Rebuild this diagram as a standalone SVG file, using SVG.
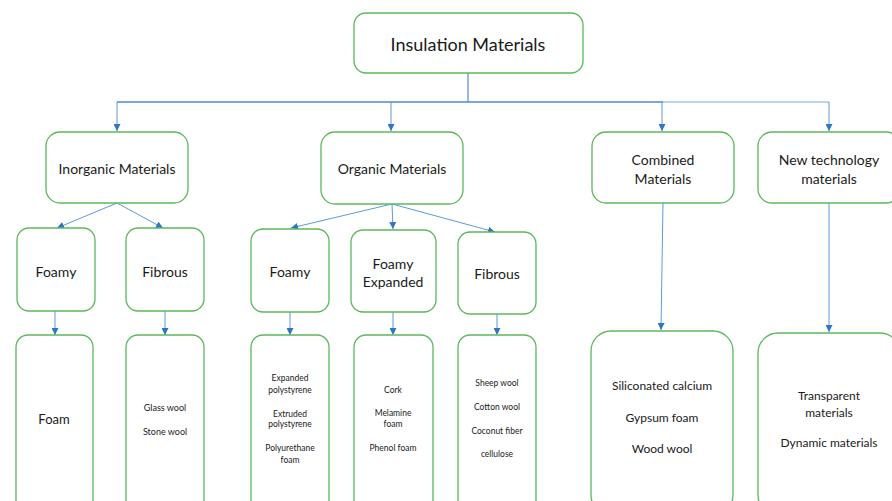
<svg xmlns="http://www.w3.org/2000/svg" width="892" height="501" viewBox="0 0 892 501">
<defs>
<marker id="ah" viewBox="0 0 10 10" refX="10" refY="5" markerWidth="7" markerHeight="7" markerUnits="userSpaceOnUse" orient="auto">
<path d="M0,0 L10,5 L0,10 z" fill="#2e75c6"/>
</marker>
<style>
.box{fill:#fff;stroke:#5cb85c;stroke-width:1.3}
.c{fill:none;stroke:#5b9bd5;stroke-width:1}
.t{font-family:Lato,"Open Sans",sans-serif;fill:#1a1a1a;text-anchor:middle;dominant-baseline:central}
.t18{font-size:18px}
.t14{font-size:14px}
.t13{font-size:13px}
.t12{font-size:12px}
.t9{font-size:9px}
.t8{font-size:8.5px}
</style>
</defs>
<rect width="892" height="501" fill="#fff"/>
<g id="connectors">
<path class="c" d="M468,73 V102" style="stroke:#2e75c6"/>
<path class="c" d="M117,102 H663" style="stroke:#4a8bd0;stroke-width:1.4"/>
<path class="c" d="M663,102 H829" style="stroke:#bcd4ee;stroke-width:2"/>
<path class="c" d="M117,102 V131" marker-end="url(#ah)"/>
<path class="c" d="M391,102 V131" marker-end="url(#ah)"/>
<path class="c" d="M662,102 V131" marker-end="url(#ah)"/>
<path class="c" d="M829,102 V131" marker-end="url(#ah)"/>
<path class="c" d="M117,203 L57,228" marker-end="url(#ah)"/>
<path class="c" d="M117,203 L163,228" marker-end="url(#ah)"/>
<path class="c" d="M392,204 L291,228" marker-end="url(#ah)"/>
<path class="c" d="M392,204 L393,229" marker-end="url(#ah)"/>
<path class="c" d="M392,204 L495,232" marker-end="url(#ah)"/>
<path class="c" d="M55,311 V335" marker-end="url(#ah)"/>
<path class="c" d="M165,311 V335" marker-end="url(#ah)"/>
<path class="c" d="M290,312 V335" marker-end="url(#ah)"/>
<path class="c" d="M393,312 V335" marker-end="url(#ah)"/>
<path class="c" d="M497,314 V335" marker-end="url(#ah)"/>
<path class="c" d="M663,203 L661,330" marker-end="url(#ah)"/>
<path class="c" d="M829,203 V332" marker-end="url(#ah)"/>
</g>
<g id="insulation">
<rect class="box" x="354" y="13" width="229" height="60" rx="12"/>
<text class="t t18" x="468" y="44">Insulation Materials</text>
</g>
<g id="inorganic">
<rect class="box" x="46" y="132" width="142" height="71" rx="14"/>
<text class="t t14" x="117" y="168">Inorganic Materials</text>
</g>
<g id="organic">
<rect class="box" x="321" y="132" width="142" height="72" rx="14"/>
<text class="t t14" x="392" y="168">Organic Materials</text>
</g>
<g id="combined">
<rect class="box" x="592" y="132" width="142" height="71" rx="14"/>
<text class="t t14" x="663" y="159">Combined</text>
<text class="t t14" x="663" y="178">Materials</text>
</g>
<g id="newtech">
<rect class="box" x="758" y="132" width="142" height="71" rx="14"/>
<text class="t t14" x="829" y="159">New technology</text>
<text class="t t14" x="829" y="178">materials</text>
</g>
<g id="inorg-foamy">
<rect class="box" x="17" y="228" width="78" height="83" rx="12"/>
<text class="t t14" x="56" y="271">Foamy</text>
</g>
<g id="inorg-fibrous">
<rect class="box" x="126" y="228" width="78" height="83" rx="12"/>
<text class="t t14" x="165" y="271">Fibrous</text>
</g>
<g id="org-foamy">
<rect class="box" x="251" y="229" width="78" height="83" rx="12"/>
<text class="t t14" x="290" y="271">Foamy</text>
</g>
<g id="org-foamy-expanded">
<rect class="box" x="351" y="230" width="85" height="82" rx="12"/>
<text class="t t14" x="393" y="263">Foamy</text>
<text class="t t14" x="393" y="281">Expanded</text>
</g>
<g id="org-fibrous">
<rect class="box" x="458" y="232" width="78" height="82" rx="12"/>
<text class="t t14" x="497" y="273">Fibrous</text>
</g>
<g id="foam">
<rect class="box" x="16" y="335" width="77" height="180" rx="12"/>
<text class="t t13" x="54" y="419">Foam</text>
</g>
<g id="glass">
<rect class="box" x="126" y="335" width="78" height="180" rx="12"/>
<text class="t t9" x="165" y="407">Glass wool</text>
<text class="t t9" x="165" y="431">Stone wool</text>
</g>
<g id="polystyrene">
<rect class="box" x="251" y="335" width="78" height="180" rx="12"/>
<text class="t t8" x="290" y="378">Expanded</text>
<text class="t t8" x="290" y="390">polystyrene</text>
<text class="t t8" x="290" y="414">Extruded</text>
<text class="t t8" x="290" y="424">polystyrene</text>
<text class="t t8" x="290" y="448">Polyurethane</text>
<text class="t t8" x="290" y="460">foam</text>
</g>
<g id="cork">
<rect class="box" x="354" y="335" width="79" height="180" rx="12"/>
<text class="t t8" x="393" y="390">Cork</text>
<text class="t t8" x="393" y="413">Melamine</text>
<text class="t t8" x="393" y="424">foam</text>
<text class="t t8" x="393" y="448">Phenol foam</text>
</g>
<g id="sheep">
<rect class="box" x="458" y="335" width="78" height="180" rx="12"/>
<text class="t t8" x="497" y="383">Sheep wool</text>
<text class="t t8" x="497" y="407">Cotton wool</text>
<text class="t t8" x="497" y="431">Coconut fiber</text>
<text class="t t8" x="497" y="454">cellulose</text>
</g>
<g id="siliconated">
<rect class="box" x="591" y="331" width="142" height="184" rx="20"/>
<text class="t t12" x="662" y="385">Siliconated calcium</text>
<text class="t t12" x="662" y="417">Gypsum foam</text>
<text class="t t12" x="662" y="448">Wood wool</text>
</g>
<g id="transparent">
<rect class="box" x="758" y="333" width="142" height="182" rx="20"/>
<text class="t t12" x="829" y="395">Transparent</text>
<text class="t t12" x="829" y="412">materials</text>
<text class="t t12" x="829" y="442">Dynamic materials</text>
</g>
</svg>
